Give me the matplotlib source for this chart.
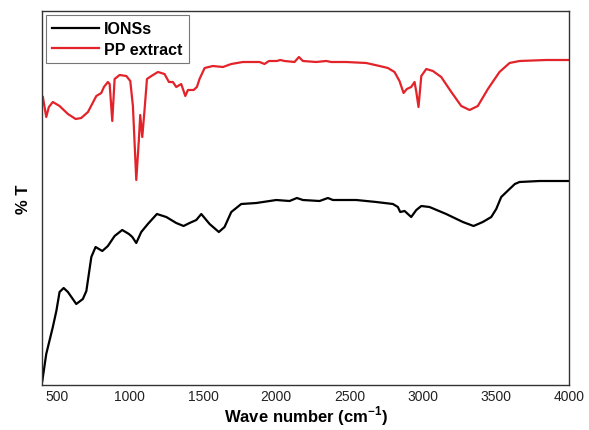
import matplotlib

matplotlib.use("Agg")
import matplotlib.pyplot as plt

plt.rcParams.update({
    "font.family": ["Liberation Sans", "DejaVu Sans"],
    "font.size": 10,
    "mathtext.fontset": "custom",
    "mathtext.rm": "Liberation Sans",
    "mathtext.bf": "Liberation Sans:bold",
})

# FTIR spectra, transmittance in arbitrary units (no y scale shown)
WN_PP = [406, 429, 447, 474, 520, 577, 630, 668, 714, 771, 805, 823, 850,
         862, 880, 896, 930, 976, 1003, 1021, 1044, 1062, 1071, 1085, 1101,
         1117, 1147, 1192, 1237, 1267, 1294, 1317, 1351, 1379, 1397, 1436,
         1458, 1476, 1511, 1567, 1636, 1693, 1772, 1886, 1920, 1950, 2004,
         2028, 2057, 2125, 2155, 2182, 2273, 2342, 2376, 2478, 2615, 2706,
         2763, 2808, 2842, 2870, 2892, 2922, 2945, 2957, 2972, 2991, 3025,
         3070, 3127, 3196, 3264, 3321, 3377, 3446, 3525, 3594, 3662, 3844,
         4000]
T_PP = [288, 268, 278, 283, 279, 271, 266, 267, 273, 289, 292, 298, 303,
        301, 264, 306, 310, 309, 304, 279, 205, 246, 270, 248, 276,
        306, 309, 313, 311, 303, 303, 298, 301, 289, 295, 295,
        298, 306, 317, 319, 318, 321, 323, 323, 321, 324, 324,
        325, 324, 323, 328, 324, 323, 324, 323, 323, 322, 319,
        317, 313, 304, 292, 296, 298, 303, 293, 278, 309, 316,
        314, 308, 293, 279, 275, 279, 296, 313, 322, 324, 325,
        325]

WN_IONS = [402, 429, 474, 498, 520, 548, 577, 634, 679, 703, 737, 766, 812,
           850, 896, 948, 994, 1017, 1044, 1078, 1123, 1185, 1249, 1317,
           1367, 1408, 1454, 1488, 1545, 1608, 1647, 1693, 1761, 1864, 1955,
           2000, 2091, 2141, 2182, 2296, 2353, 2387, 2547, 2683, 2797, 2831,
           2847, 2877, 2922, 2957, 2991, 3047, 3161, 3275, 3348, 3411, 3469,
           3503, 3537, 3594, 3630, 3662, 3799, 4000]
T_IONS = [4, 31, 58, 74, 93, 97, 93, 81, 86, 94, 128, 138, 134,
          139, 149, 155, 151, 148, 142, 153, 161, 171, 168, 162,
          159, 162, 165, 171, 161, 153, 158, 173, 181, 182, 184,
          185, 184, 187, 185, 184, 187, 185, 185, 183, 181, 178,
          173, 174, 168, 175, 179, 178, 171, 163, 159, 163, 168,
          176, 188, 196, 201, 203, 204, 204]

XTICKS = [500, 1000, 1500, 2000, 2500, 3000, 3500, 4000]

fig = plt.figure(figsize=(5.89, 4.31), dpi=100)
ax = fig.add_axes([42 / 589, 1 - 386 / 431, 527 / 589, 374 / 431])

ax.plot(WN_IONS, T_IONS, color="black", lw=1.6, label="IONSs",
        solid_joinstyle="round")
ax.plot(WN_PP, T_PP, color="#e3232a", lw=1.6, label="PP extract",
        solid_joinstyle="round")

ax.set_xlim(400, 4000)
ax.set_ylim(0, 374)
ax.set_xticks(XTICKS)
ax.set_yticks([])
ax.tick_params(axis="x", length=0, pad=3, labelsize=10, colors="#222222")
for sp in ax.spines.values():
    sp.set_linewidth(1.0)
    sp.set_color("#333333")

ax.set_xlabel("Wave number (cm$^{\\mathbf{-1}}$)", fontsize=12,
              fontweight="bold", labelpad=0)
ax.set_ylabel("% T", fontsize=12, fontweight="bold", labelpad=8)

leg = ax.legend(loc="upper left", prop={"weight": "bold", "size": 11.5},
                frameon=True, fancybox=False, edgecolor="#555555",
                handlelength=2.9, borderaxespad=0.25, borderpad=0.4,
                labelspacing=0.35, handletextpad=0.35)
leg.get_frame().set_linewidth(0.8)

fig.savefig("out.png", dpi=100)
